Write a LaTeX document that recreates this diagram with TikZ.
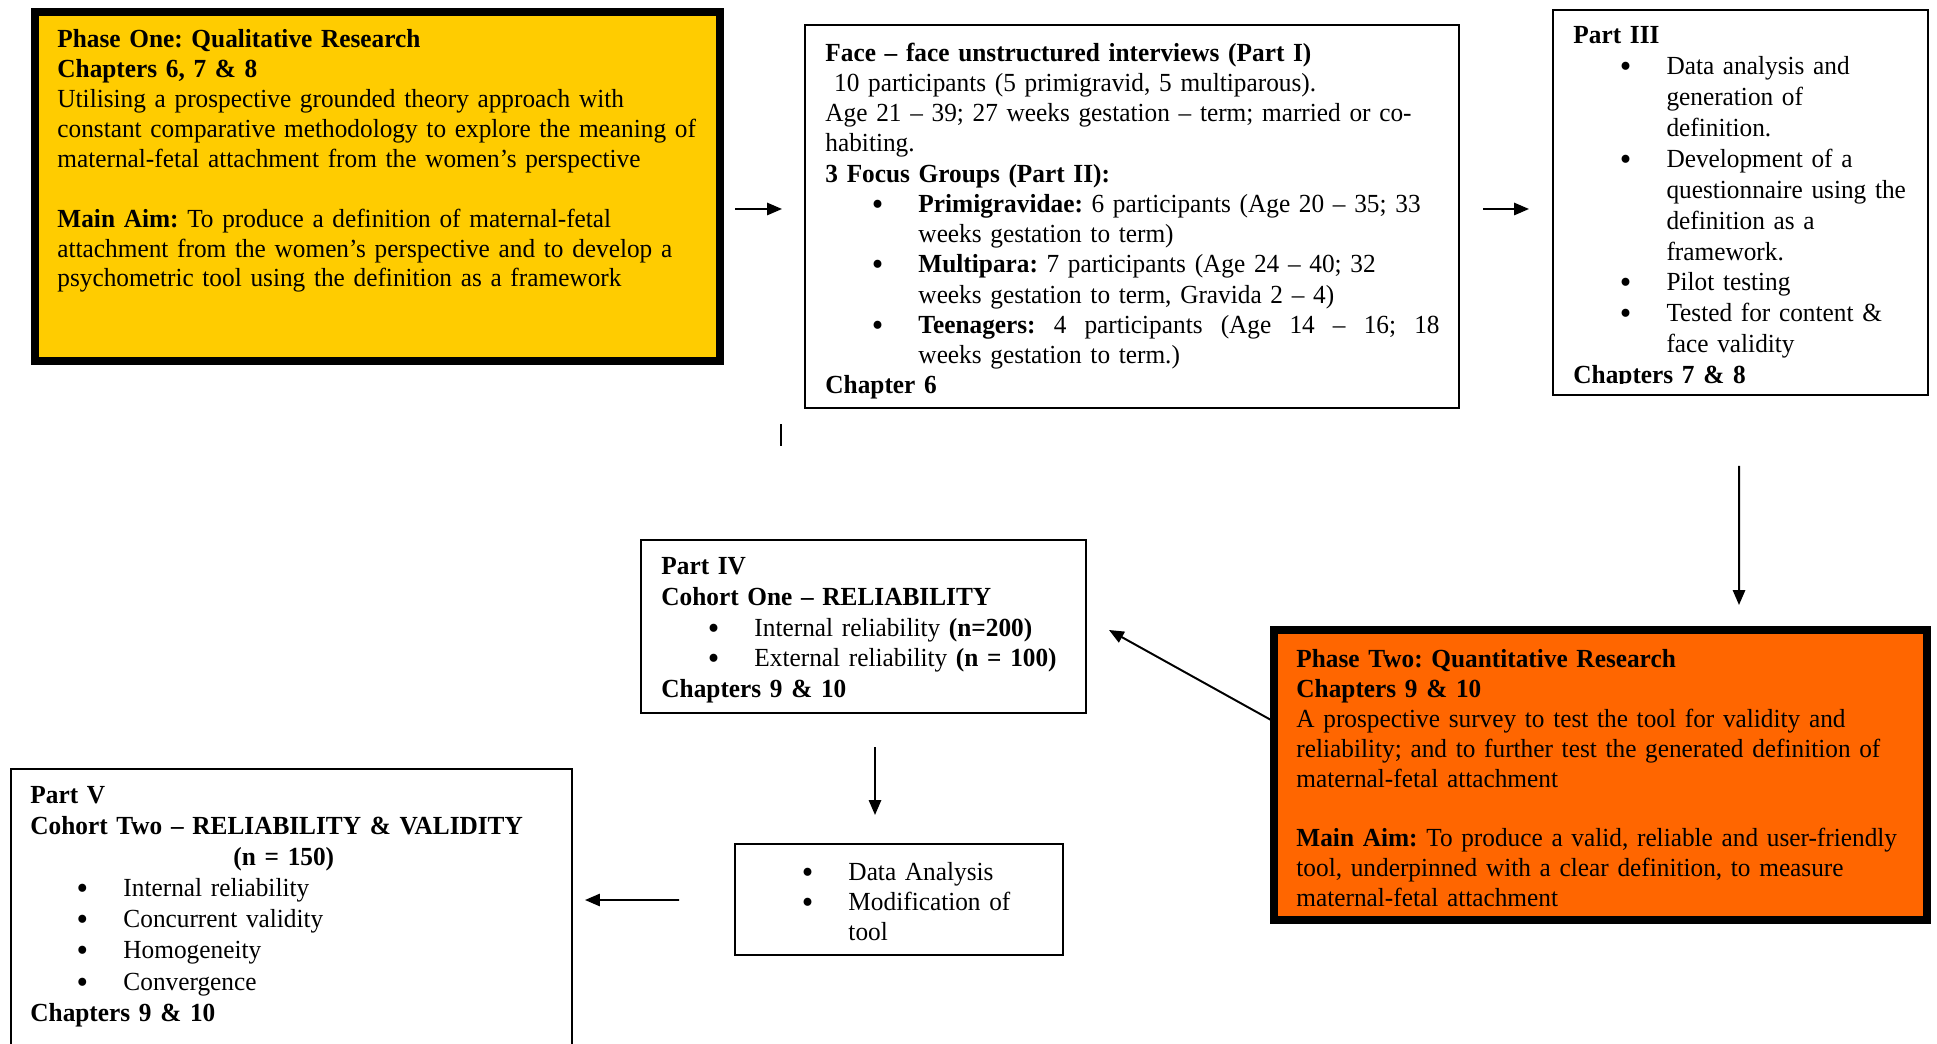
\documentclass[tikz,border=0pt]{standalone}
\usepackage{fontspec}
\usepackage{graphicx}
\setmainfont{Liberation Serif}[FakeStretch=0.97]
\usetikzlibrary{arrows.meta}
\definecolor{qualyellow}{HTML}{FFCC00}
\definecolor{quantorange}{HTML}{FF6600}
\newcommand{\bulletmark}{\raisebox{-0.25ex}{\scalebox{1.3}{\textbullet}}}
\newcommand{\bitem}[1]{\noindent\hangindent=42.8pt\hangafter=1\hspace*{21.3pt}\makebox[21.5pt][l]{\bulletmark}#1\par}
\tikzset{
  stage/.style={draw, line width=0.9pt, inner sep=0pt, outer sep=0pt, anchor=north west},
  phase/.style={stage, line width=3.7pt},
  boxtext/.style={anchor=base west, inner sep=0pt, align=left, font=\fontsize{12}{#1}\selectfont\frenchspacing},
  boxtext/.default=13.8,
  flow/.style={-{Triangle[length=6.8pt,width=5.6pt]}, line width=0.9pt},
}

\begin{document}
\begin{tikzpicture}[x=0.46pt, y=-0.46pt]
		%%%%% START %%%%%
		\useasboundingbox (0,0) rectangle (1937,1044);
		\clip (0,0) rectangle (1937,1044);
		
		% boxes
		\node[phase, fill=qualyellow, minimum width=315.1pt, minimum height=160.54pt] (phaseone) at (35,12) {};
		\node[stage, minimum width=300.84pt, minimum height=176.18pt] (interviews) at (805,25) {};
		\node[stage, minimum width=172.5pt, minimum height=177.1pt] (partthree) at (1553,10) {};
		\node[phase, fill=quantorange, minimum width=300.38pt, minimum height=133.4pt] (phasetwo) at (1274,630) {};
		\node[stage, minimum width=204.7pt, minimum height=79.58pt] (partfour) at (641,540) {};
		\node[stage, minimum width=150.88pt, minimum height=51.06pt] (analysis) at (735,844) {};
		\node[stage, minimum width=258.06pt, minimum height=138.46pt] (partfive) at (11,769) {};
		
		% texts
		\node[boxtext=13.75, text width=320pt] (phaseonetext) at ([shift={(22,35.8)}]phaseone.north west) {%
			\textbf{Phase One: Qualitative Research}\\
			\textbf{Chapters 6, 7 \& 8}\\
			Utilising a prospective grounded theory approach with\\
			constant comparative methodology to explore the meaning of\\
			maternal-fetal attachment from the women’s perspective\\[13.75pt]
			\textbf{Main Aim:} To produce a definition of maternal-fetal\\
			attachment from the women’s perspective and to develop a\\
			psychometric tool using the definition as a framework};
		
		\node[boxtext=13.9, text width=300pt] (interviewstext) at ([shift={(20,36.3)}]interviews.north west) {%
			\textbf{Face – face unstructured interviews (Part I)}\\
			\hspace*{4pt}10 participants (5 primigravid, 5 multiparous).\\
			Age 21 – 39; 27 weeks gestation – term; married or co-\\
			habiting.\\
			\textbf{3 Focus Groups (Part II):}\par
			\bitem{\textbf{Primigravidae:} 6 participants (Age 20 – 35; 33\newline weeks gestation to term)}
			\bitem{\textbf{Multipara:} 7 participants (Age 24 – 40; 32\newline weeks gestation to term, Gravida 2 – 4)}
			\bitem{\hbox to 239.7pt{\textbf{Teenagers:}\hfill 4\hfill participants\hfill (Age\hfill 14\hfill –\hfill 16;\hfill 18}\newline weeks gestation to term.)}
			\textbf{Chapter 6}};
		
		\begin{scope}
			\clip (partthree.north west) rectangle ([shift={(0,-11)}]partthree.south east);
			\node[boxtext=14.2, text width=180pt] (partthreetext) at ([shift={(20,34)}]partthree.north west) {%
				\textbf{Part III}\par
				\bitem{Data analysis and\newline generation of\newline definition.}
				\bitem{Development of a\newline questionnaire using the\newline definition as a\newline framework.}
				\bitem{Pilot testing}
				\bitem{Tested for content {\large\&}\newline face validity}
				\textbf{Chapters 7 \& 8}};
		\end{scope}
		
		\node[boxtext=13.75, text width=300pt] (phasetwotext) at ([shift={(22,37.5)}]phasetwo.north west) {%
			\textbf{Phase Two: Quantitative Research}\\
			\textbf{Chapters 9 \& 10}\\
			A prospective survey to test the tool for validity and\\
			reliability; and to further test the generated definition of\\
			maternal-fetal attachment\\[13.75pt]
			\textbf{Main Aim:} To produce a valid, reliable and user-friendly\\
			tool, underpinned with a clear definition, to measure\\
			maternal-fetal attachment};
		
		\node[boxtext=14.15, text width=220pt] (partfourtext) at ([shift={(20,34.5)}]partfour.north west) {%
			\textbf{Part IV}\\
			\textbf{Cohort One – RELIABILITY}\par
			\bitem{Internal reliability \textbf{(n=200)}}
			\bitem{External reliability \textbf{(n = 100)}}
			\textbf{Chapters 9 \& 10}};
		
		\node[boxtext=14, text width=160pt] (analysistext) at ([shift={(20,36)}]analysis.north west) {%
			\bitem{Data Analysis}
			\bitem{Modification of\newline tool}};
		
		\node[boxtext=14.3, text width=260pt] (partfivetext) at ([shift={(19,34.5)}]partfive.north west) {%
			\textbf{Part V}\\
			\textbf{Cohort Two – RELIABILITY \& VALIDITY}\\
			\hspace*{93.4pt}\textbf{(n = 150)}\par
			\bitem{Internal reliability}
			\bitem{Concurrent validity}
			\bitem{Homogeneity}
			\bitem{Convergence}
			\textbf{Chapters 9 \& 10}};
		
		% arrows
		\draw[flow] ([shift={(15,22.5)}]phaseone.east) -- ([shift={(-23,-7.5)}]interviews.west);
		\draw[flow] ([shift={(24,-7.5)}]interviews.east) -- ([shift={(-24,6.5)}]partthree.west);
		\draw[flow] ([shift={(-1.5,71)}]partthree.south) -- ([shift={(138.5,-25)}]phasetwo.north);
		\draw[flow] ([shift={(-3,-55)}]phasetwo.west) -- ([shift={(23,3.5)}]partfour.east);
		\draw[flow] ([shift={(11.5,34)}]partfour.south) -- ([shift={(-24,-29)}]analysis.north);
		\draw[flow] ([shift={(-56,0.5)}]analysis.west) -- ([shift={(13,-19.5)}]partfive.east);
		
		% stray tick below the interviews box
		\draw[line width=0.7pt] (781,424) -- (781,446);
		%%%%% END %%%%%
\end{tikzpicture}
\end{document}
